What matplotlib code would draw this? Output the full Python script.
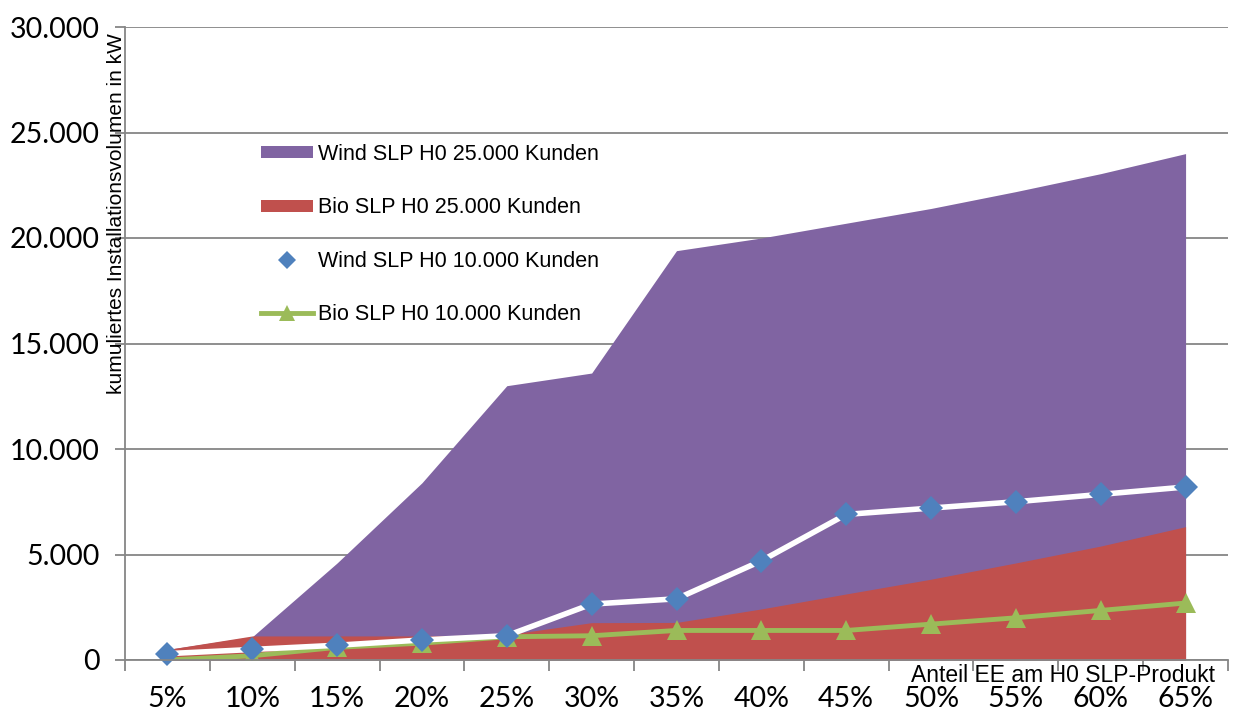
import matplotlib
matplotlib.use("Agg")
import matplotlib.pyplot as plt
from matplotlib.lines import Line2D
from matplotlib.patches import Patch
from matplotlib.ticker import FuncFormatter, FixedLocator
import numpy as np

categories = ["5%", "10%", "15%", "20%", "25%", "30%", "35%", "40%", "45%",
              "50%", "55%", "60%", "65%"]
wind_25k = [500, 1100, 4600, 8400, 13000, 13600, 19400, 20000, 20700,
            21400, 22200, 23050, 24000]
bio_25k = [500, 1140, 1140, 1140, 1200, 1770, 1780, 2420, 3130,
           3830, 4600, 5400, 6320]
wind_10k = [300, 500, 700, 950, 1150, 2650, 2900, 4700, 6900,
            7200, 7500, 7850, 8200]
bio_10k = [0, 200, 600, 800, 1100, 1150, 1400, 1400, 1400,
           1700, 2000, 2350, 2700]
yticks = [0, 5000, 10000, 15000, 20000, 25000, 30000]

PURPLE = "#8064A2"
RED = "#C0504D"
BLUE = "#4F81BD"
GREEN = "#9BBB59"
GRID = "#868686"

W, H = 1234, 716
fig = plt.figure(figsize=(W / 100, H / 100), dpi=100)
ax = fig.add_axes([125 / W, 1 - 660 / H, (1228 - 125) / W, (660 - 27) / H])

x = np.arange(len(categories))

ax.fill_between(x, 0, wind_25k, color=PURPLE, linewidth=0, zorder=2)
ax.fill_between(x, 0, bio_25k, color=RED, linewidth=0, zorder=3)
ax.plot(x, bio_10k, color=GREEN, lw=3.5, marker="^", ms=14,
        markeredgewidth=0, zorder=4)
ax.plot(x, wind_10k, color="white", lw=4, marker="D", ms=12,
        markerfacecolor=BLUE, markeredgewidth=0, zorder=5, clip_on=False)

ax.set_xlim(-0.5, len(categories) - 0.5)
ax.set_ylim(0, 30000)

# y axis
ax.yaxis.set_major_locator(FixedLocator(yticks))
ax.yaxis.set_major_formatter(
    FuncFormatter(lambda v, p: f"{int(v):,}".replace(",", ".")))
ax.grid(axis="y", color=GRID, lw=1.3, zorder=0)
ax.set_axisbelow(True)

# x axis: ticks at category boundaries, labels at category centres
ax.set_xticks(np.arange(-0.5, len(categories), 1.0))
ax.set_xticklabels([])
ax.set_xticks(x, minor=True)
ax.set_xticklabels(categories, minor=True)
ax.tick_params(axis="x", which="major", direction="out", length=8,
               color=GRID, width=1.3)
ax.tick_params(axis="x", which="minor", length=0, pad=19)
ax.tick_params(axis="y", direction="out", length=7, color=GRID, width=1.3,
               pad=11)

for lab in ax.get_xticklabels(minor=True) + ax.get_yticklabels():
    lab.set_fontfamily("Lato")
    lab.set_fontsize(20.5)
    lab.set_color("black")

for s in ["top", "right"]:
    ax.spines[s].set_visible(False)
for s in ["left", "bottom"]:
    ax.spines[s].set_color(GRID)
    ax.spines[s].set_linewidth(1.3)
    ax.spines[s].set_zorder(6)

fig.text(117 / W, 1 - 33 / H, "kumuliertes Installationsvolumen in kW",
         rotation=90, ha="center", va="top", fontsize=15,
         family="Liberation Sans")
fig.text(1215 / W, 1 - 675 / H, "Anteil EE am H0 SLP-Produkt",
         ha="right", va="center", fontsize=16.5, family="Liberation Sans")

handles = [
    Patch(facecolor=PURPLE, edgecolor="none"),
    Patch(facecolor=RED, edgecolor="none"),
    Line2D([], [], color="white", lw=3.5, marker="D", ms=9,
           markerfacecolor=BLUE, markeredgewidth=0),
    Line2D([], [], color=GREEN, lw=3.5, marker="^", ms=11,
           markeredgewidth=0),
]
labels = ["Wind SLP H0 25.000 Kunden", "Bio SLP H0 25.000 Kunden",
          "Wind SLP H0 10.000 Kunden", "Bio SLP H0 10.000 Kunden"]
leg = fig.legend(handles, labels, loc="upper left",
                 bbox_to_anchor=(261 / W, 1 - 144 / H),
                 frameon=False, prop={"family": "Liberation Sans", "size": 15.5},
                 labelspacing=1.5, handlelength=2.4, handleheight=0.5,
                 handletextpad=0.23, borderaxespad=0, borderpad=0)

fig.savefig("out.png", dpi=100)
